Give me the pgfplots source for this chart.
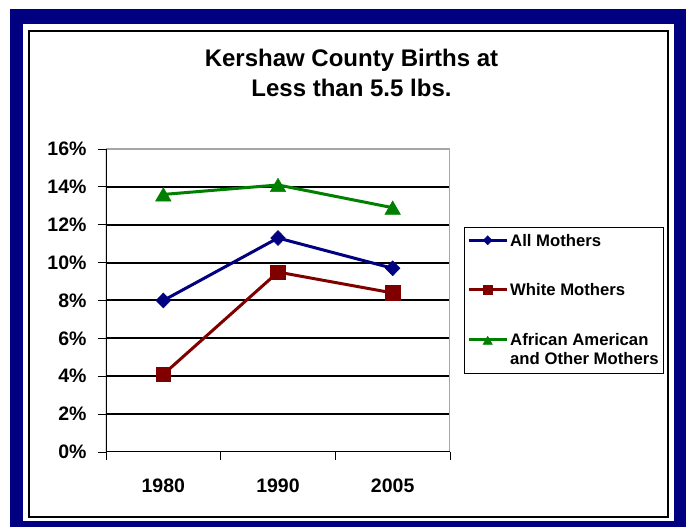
\documentclass[border=0pt]{standalone}
\usepackage{pgfplots}
\pgfplotsset{compat=1.18}
\usepackage{fontspec}
\setmainfont{Liberation Sans}
\definecolor{navyb}{RGB}{0,0,128}
\definecolor{dred}{RGB}{128,0,0}
\definecolor{dgreen}{RGB}{0,128,0}
\begin{document}
\begin{tikzpicture}[x=1pt,y=1pt]
\useasboundingbox (0,0) rectangle (689,529);
\fill[white] (0,0) rectangle (689,529);
\fill[navyb] (10,2) rectangle (686,520);
\fill[white] (23,8) rectangle (674,505);
\draw[black, line width=1.5pt] (29,12) rectangle (668,498);
\node[font=\bfseries\fontsize{24}{30}\selectfont, anchor=base] at (351.5,462.3) {Kershaw County Births at};
\node[font=\bfseries\fontsize{24}{30}\selectfont, anchor=base] at (351.5,432.3) {Less than 5.5 lbs.};
\begin{axis}[
  at={(106pt,77pt)}, anchor=south west, scale only axis,
  width=344pt, height=303pt,
  xmin=0.5, xmax=3.5, ymin=0, ymax=16,
  xtick={1,2,3}, xticklabels={1980,1990,2005},
  minor xtick={0.5,1.5,2.5,3.5},
  ytick={2,4,...,14}, yticklabels={2\%,4\%,6\%,8\%,10\%,12\%,14\%},
  extra y ticks={0,16}, extra y tick labels={0\%,16\%},
  extra y tick style={grid=none},
  tick pos=left, tick align=outside,
  major tick length=8pt, minor tick length=8pt,
  major x tick style={draw=none},
  minor x tick style={black, line width=0.8pt},
  ytick style={black, line width=0.8pt},
  ymajorgrids, grid style={black, line width=2pt},
  axis line style={draw=none},
  tick label style={font=\bfseries\fontsize{19.5}{22}\selectfont},
  yticklabel style={xshift=-8pt},
  xticklabel style={yshift=-15pt},
  legend style={at={(1.0407,0.7426)}, anchor=north west, draw=none, fill=none,
    font=\bfseries\fontsize{16.7}{19.5}\selectfont, inner xsep=3pt, inner ysep=7pt,
    row sep=36pt, column sep=2pt, nodes={inner sep=0pt}, cells={anchor=base west}},
  legend image code/.code={\draw[#1, mark repeat=2, mark phase=2] plot coordinates {(0pt,6pt) (19pt,6pt) (38pt,6pt)};},
  every legend image post/.style={every mark/.append style={scale=0.6}},
]
\addplot[navyb, line width=3pt, mark=diamond*, mark size=7.5pt, mark options={xscale=1.3, line width=0.5pt, solid}] coordinates {(1,8.0) (2,11.3) (3,9.7)};
\addlegendentry{All Mothers}
\addplot[dred, line width=3pt, mark=square*, mark size=7.25pt, mark options={line width=0.5pt, solid}] coordinates {(1,4.1) (2,9.5) (3,8.4)};
\addlegendentry{White Mothers}
\addplot[dgreen, line width=3pt, mark=triangle*, mark size=9pt, mark options={line width=0.5pt, solid, yshift=-2.25pt}] coordinates {(1,13.6) (2,14.1) (3,12.9)};
\addlegendentry{\vtop{\hbox{African American}\hbox{and Other Mothers}}}
\draw[gray!70, line width=2pt] (rel axis cs:0,1) -- (rel axis cs:1,1) -- (rel axis cs:1,0);
\draw[black, line width=1.2pt] (rel axis cs:0,1) -- (rel axis cs:0,0) -- (rel axis cs:1,0);
\end{axis}
\draw[black, line width=0.8pt] (464,156) rectangle (663,302);
\end{tikzpicture}
\end{document}
